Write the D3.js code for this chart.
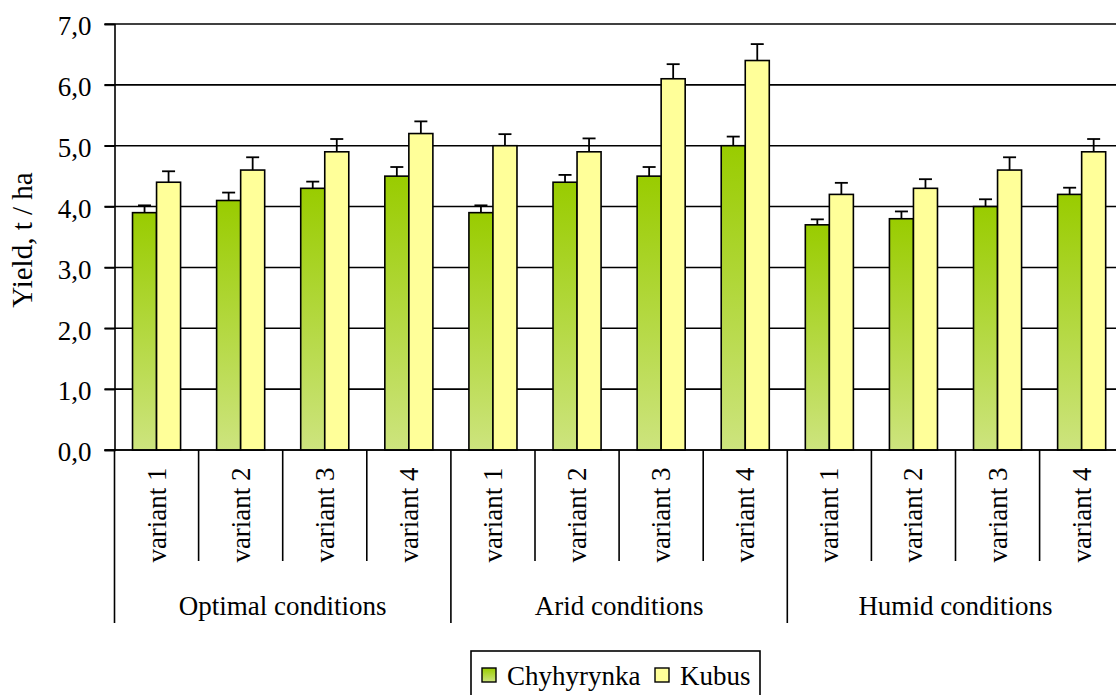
<!DOCTYPE html>
<html>
<head>
<meta charset="utf-8">
<script src="https://cdn.jsdelivr.net/npm/d3@7"></script>
<style>
  html, body { margin: 0; padding: 0; background: #fff; }
  svg { display: block; }
  text { font-family: "Liberation Serif", "Times New Roman", serif; fill: #000; }
</style>
</head>
<body>
<svg id="chart" width="1116" height="695"></svg>
<script>
// ---- data ----
const groups = ["Optimal conditions", "Arid conditions", "Humid conditions"];
const variants = ["variant 1", "variant 2", "variant 3", "variant 4"];
const seriesNames = ["Chyhyrynka", "Kubus"];
const chyhyrynka = [3.9, 4.1, 4.3, 4.5, 3.9, 4.4, 4.5, 5.0, 3.7, 3.8, 4.0, 4.2];
const kubus      = [4.4, 4.6, 4.9, 5.2, 5.0, 4.9, 6.1, 6.4, 4.2, 4.3, 4.6, 4.9];
const chyhyrynkaErr = [0.12, 0.13, 0.11, 0.15, 0.12, 0.12, 0.15, 0.15, 0.09, 0.12, 0.12, 0.11];
const kubusErr      = [0.18, 0.21, 0.21, 0.20, 0.19, 0.22, 0.24, 0.27, 0.19, 0.15, 0.21, 0.21];
const yTicks = [0, 1, 2, 3, 4, 5, 6, 7];
const yLabel = "Yield, t / ha";

// ---- layout ----
const svg = d3.select("#chart");
const x0 = 114.5, x1 = 1123.7, yTop = 24, yBottom = 450;
const fontSize = 27;

const cats = [];
groups.forEach((g, gi) => variants.forEach((v, vi) => cats.push({ key: gi + "-" + vi, group: g, variant: v, gi, vi })));

const x = d3.scaleBand().domain(cats.map(d => d.key)).range([x0, x1]).paddingInner(0).paddingOuter(0);
const gap = 1.5; // Excel-style gap width (150%)
const barW = x.bandwidth() / (2 + gap);
const xs = d3.scaleBand().domain(seriesNames).range([barW * gap / 2, barW * gap / 2 + 2 * barW]);
const y = d3.scaleLinear().domain([0, 7]).range([yBottom, yTop]);

const defs = svg.append("defs");
const grad = defs.append("linearGradient").attr("id", "gGreen").attr("x1", 0).attr("y1", 0).attr("x2", 0).attr("y2", 1);
grad.append("stop").attr("offset", "0%").attr("stop-color", "#99cc00");
grad.append("stop").attr("offset", "100%").attr("stop-color", "#cde47e");
const fills = { "Chyhyrynka": "url(#gGreen)", "Kubus": "#ffff99" };

// gridlines
svg.append("g").selectAll("line").data(yTicks).join("line")
  .attr("x1", x0 - 10).attr("x2", 1116)
  .attr("y1", d => y(d)).attr("y2", d => y(d))
  .attr("stroke", "#000").attr("stroke-width", 1.6);

// y axis
const yAxis = d3.axisLeft(y).tickValues(yTicks).tickSize(10).tickPadding(13)
  .tickFormat(d => d3.format(".1f")(d).replace(".", ","));
const ya = svg.append("g").attr("transform", `translate(${x0},0)`).call(yAxis);
ya.select(".domain").attr("stroke", "#000").attr("stroke-width", 1.6);
ya.selectAll(".tick line").attr("stroke", "#000").attr("stroke-width", 1.6);
ya.selectAll(".tick text").attr("font-size", fontSize).attr("font-family", "Liberation Serif").attr("dy", "0.4em");

// y label
svg.append("text").attr("transform", `translate(32,${(yTop + yBottom) / 2 + 3}) rotate(-90)`)
  .attr("text-anchor", "middle").attr("font-size", 29).text(yLabel);

// bars
const rows = [];
cats.forEach((c, i) => {
  rows.push({ cat: c.key, s: "Chyhyrynka", v: chyhyrynka[i], e: chyhyrynkaErr[i] });
  rows.push({ cat: c.key, s: "Kubus", v: kubus[i], e: kubusErr[i] });
});
const bars = svg.append("g");
bars.selectAll("rect").data(rows).join("rect")
  .attr("x", d => x(d.cat) + xs(d.s))
  .attr("width", xs.bandwidth())
  .attr("y", d => y(d.v))
  .attr("height", d => y(0) - y(d.v))
  .attr("fill", d => fills[d.s])
  .attr("stroke", "#000").attr("stroke-width", 1.6);

// error bars
const eb = svg.append("g").attr("stroke", "#000").attr("stroke-width", 1.8);
rows.forEach(d => {
  const cx = x(d.cat) + xs(d.s) + xs.bandwidth() / 2;
  eb.append("line").attr("x1", cx).attr("x2", cx).attr("y1", y(d.v)).attr("y2", y(d.v + d.e));
  eb.append("line").attr("x1", cx - 6.5).attr("x2", cx + 6.5).attr("y1", y(d.v + d.e)).attr("y2", y(d.v + d.e));
});

// x axis line
svg.append("line").attr("x1", x0 - 10).attr("x2", 1116).attr("y1", yBottom).attr("y2", yBottom)
  .attr("stroke", "#000").attr("stroke-width", 1.6);

// category separators
const sepG = svg.append("g").attr("stroke", "#000").attr("stroke-width", 1.6);
cats.forEach((c, i) => {
  const xx = x(c.key);
  const long = c.vi === 0;
  sepG.append("line").attr("x1", xx).attr("x2", xx).attr("y1", yBottom).attr("y2", long ? 623 : 561);
});
sepG.append("line").attr("x1", x1).attr("x2", x1).attr("y1", yBottom).attr("y2", 623);

// variant labels
svg.append("g").selectAll("text").data(cats).join("text")
  .attr("transform", d => `translate(${x(d.key) + x.bandwidth() / 2 + 9},515) rotate(-90)`)
  .attr("text-anchor", "middle").attr("font-size", fontSize).text(d => d.variant);

// group labels
svg.append("g").selectAll("text").data(groups).join("text")
  .attr("x", (d, i) => x(i + "-0") + 2 * x.bandwidth())
  .attr("y", 615)
  .attr("text-anchor", "middle").attr("font-size", fontSize).text(d => d);

// legend
const lg = svg.append("g");
lg.append("rect").attr("x", 471).attr("y", 651).attr("width", 289).attr("height", 48)
  .attr("fill", "#fff").attr("stroke", "#000").attr("stroke-width", 1.6);
const legendItems = [
  { s: "Chyhyrynka", sx: 482, tx: 507 },
  { s: "Kubus", sx: 655, tx: 680 }
];
legendItems.forEach(it => {
  lg.append("rect").attr("x", it.sx).attr("y", 668).attr("width", 14).attr("height", 14)
    .attr("fill", fills[it.s]).attr("stroke", "#000").attr("stroke-width", 1.4);
  lg.append("text").attr("x", it.tx).attr("y", 685).attr("font-size", fontSize).text(it.s);
});
</script>
</body>
</html>
